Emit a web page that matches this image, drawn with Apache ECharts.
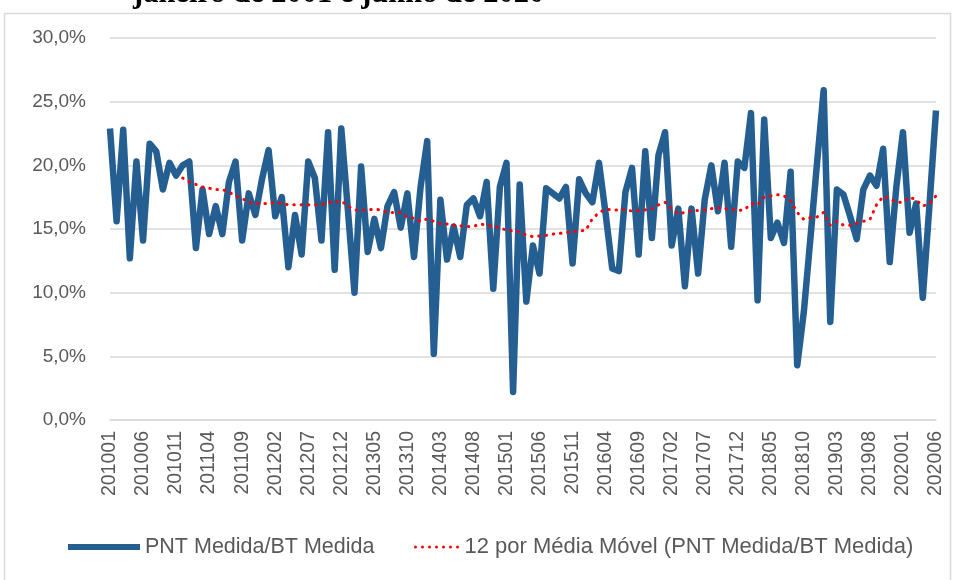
<!DOCTYPE html>
<html>
<head>
<meta charset="utf-8">
<script src="https://cdn.jsdelivr.net/npm/echarts@6/dist/echarts.min.js"></script>
<style>
  html, body { margin: 0; padding: 0; background: #ffffff; }
  #chart { width: 956px; height: 580px; }
</style>
</head>
<body>
<div id="chart"></div>
<script>
// Monthly periods, January 2010 to June 2020 (YYYYMM)
const months = [];
for (let y = 2010; y <= 2020; y++) {
  for (let m = 1; m <= 12; m++) {
    if (y === 2020 && m > 6) break;
    months.push(String(y) + (m < 10 ? '0' : '') + m);
  }
}

// PNT Medida / BT Medida, in percent
const pntRatio = [
  22.9, 15.6, 22.8, 12.7, 20.3, 14.1, 21.7, 21.1, 18.1, 20.2, 19.2, 20.0,
  20.3, 13.5, 18.1, 14.6, 16.8, 14.6, 18.7, 20.3, 14.1, 17.8, 16.1, 18.9,
  21.2, 16.0, 17.5, 12.0, 16.1, 13.0, 20.3, 19.0, 14.1, 22.6, 11.8, 22.9,
  16.5, 10.0, 19.9, 13.2, 15.8, 13.5, 16.8, 17.9, 15.1, 17.8, 12.8, 18.3,
  21.9, 5.2, 17.3, 12.6, 15.2, 12.8, 16.9, 17.4, 16.0, 18.7, 10.3, 18.3,
  20.2, 2.2, 18.5, 9.3, 13.7, 11.5, 18.2, 17.8, 17.4, 18.3, 12.3, 18.9,
  17.8, 17.1, 20.2, 16.2, 11.9, 11.7, 17.9, 19.8, 13.0, 21.1, 14.3, 20.8,
  22.6, 13.7, 16.6, 10.5, 16.6, 11.5, 17.3, 20.0, 16.4, 20.2, 13.6, 20.3,
  19.8, 24.1, 9.4, 23.6, 14.3, 15.5, 13.9, 19.5, 4.3, 8.5, 14.3, 20.2,
  25.9, 7.7, 18.1, 17.7, 16.0, 14.2, 18.1, 19.2, 18.4, 21.3, 12.4, 18.3,
  22.6, 14.7, 17.0, 9.6, 16.8, 24.3
];

// 12-period moving average of the ratio, in percent
const movingAvg = [
  null, null, null, null, null, null, null, null, null, null, null, 19.0,
  18.7, 18.5, 18.3, 18.2, 18.1, 18.1, 17.9, 17.6, 17.4, 17.1, 17.0, 17.0,
  17.0, 17.1, 17.0, 16.9, 16.9, 16.9, 16.9, 16.9, 16.9, 17.1, 17.1, 17.2,
  16.8, 16.5, 16.5, 16.5, 16.55, 16.5, 16.3, 16.3, 16.3, 15.9, 15.85, 15.6,
  15.8, 15.6, 15.4, 15.4, 15.3, 15.25, 15.2, 15.2, 15.4, 15.3, 15.2, 15.1,
  14.9, 14.85, 14.8, 14.5, 14.4, 14.45, 14.5, 14.6, 14.65, 14.7, 14.8, 14.85,
  14.9, 15.8, 16.3, 16.55, 16.5, 16.5, 16.55, 16.4, 16.45, 16.5, 16.6, 16.9,
  17.1, 16.6, 16.2, 16.3, 16.45, 16.45, 16.5, 16.6, 16.65, 16.6, 16.55, 16.45,
  16.5, 17.0, 16.9, 17.5, 17.6, 17.7, 17.6, 17.2, 16.3, 15.75, 15.9, 15.95,
  16.3, 15.3, 15.6, 15.3, 15.3, 15.45, 15.6, 15.75, 16.9, 17.55, 17.4, 17.1,
  17.1, 17.5, 17.3, 16.8, 17.0, 17.6
];

const seriesNames = ['PNT Medida/BT Medida', '12 por Média Móvel (PNT Medida/BT Medida)'];
const titleText = 'janeiro de 2001 e junho de 2020';

const FONT = 'Liberation Sans';
const TEXT_COLOR = '#595959';
const GRID_COLOR = '#d9d9d9';
const BLUE = '#255E91';
const RED = '#ff0000';

// Legend swatch for the dotted average: a row of small round dots
function dottedIcon(count, step, r) {
  let d = '';
  for (let k = 0; k < count; k++) {
    const cx = r + k * step;
    d += 'M' + (cx - r) + ',' + r + 'a' + r + ',' + r + ' 0 1,0 ' + (2 * r) + ',0' +
         'a' + r + ',' + r + ' 0 1,0 ' + (-2 * r) + ',0Z';
  }
  return 'path://' + d;
}

const chart = echarts.init(document.getElementById('chart'), null, { renderer: 'canvas' });

chart.setOption({
  backgroundColor: '#ffffff',
  animation: false,
  graphic: [
    {
      type: 'rect',
      shape: { x: 4.5, y: 13.5, width: 946, height: 620 },
      style: { fill: 'none', stroke: GRID_COLOR, lineWidth: 1.5 },
      z: -1
    },
    {
      type: 'text',
      x: 133,
      y: -6,
      style: {
        text: titleText,
        font: 'bold 30.5px "Liberation Serif"',
        fill: '#000000',
        verticalAlign: 'middle'
      }
    }
  ],
  legend: [
    {
      data: [{ name: seriesNames[0], icon: 'rect', itemStyle: { color: BLUE } }],
      left: 68,
      top: 536,
      padding: 0,
      itemWidth: 72,
      itemHeight: 6,
      textStyle: { fontFamily: FONT, fontSize: 21.5, color: TEXT_COLOR }
    },
    {
      data: [{ name: seriesNames[1], icon: dottedIcon(7, 7, 1.5), itemStyle: { color: RED } }],
      left: 414,
      top: 536,
      padding: 0,
      itemWidth: 46,
      itemHeight: 3,
      textStyle: { fontFamily: FONT, fontSize: 22, color: TEXT_COLOR }
    }
  ],
  grid: { left: 110, right: 20, top: 38, bottom: 160, containLabel: false },
  xAxis: {
    type: 'category',
    data: months,
    boundaryGap: false,
    axisLine: { lineStyle: { color: GRID_COLOR, width: 1.5 } },
    axisTick: { show: false },
    axisLabel: {
      interval: 4,
      rotate: 90,
      margin: 11,
      fontFamily: FONT,
      fontSize: 19.5,
      color: TEXT_COLOR
    },
    splitLine: { show: false }
  },
  yAxis: {
    type: 'value',
    min: 0,
    max: 30,
    interval: 5,
    axisLine: { show: false },
    axisTick: { show: false },
    axisLabel: {
      margin: 24,
      fontFamily: FONT,
      fontSize: 19,
      color: TEXT_COLOR,
      formatter: v => v.toFixed(1).replace('.', ',') + '%'
    },
    splitLine: { lineStyle: { color: GRID_COLOR, width: 1.5 } }
  },
  series: [
    {
      name: seriesNames[0],
      type: 'line',
      data: pntRatio,
      symbol: 'none',
      lineStyle: { color: BLUE, width: 6.5, join: 'round' },
      itemStyle: { color: BLUE },
      z: 2
    },
    {
      name: seriesNames[1],
      type: 'line',
      data: movingAvg,
      symbol: 'none',
      connectNulls: false,
      lineStyle: { color: RED, width: 3, type: [0.5, 6.8], cap: 'round' },
      itemStyle: { color: RED },
      z: 3
    }
  ]
});
</script>
</body>
</html>
